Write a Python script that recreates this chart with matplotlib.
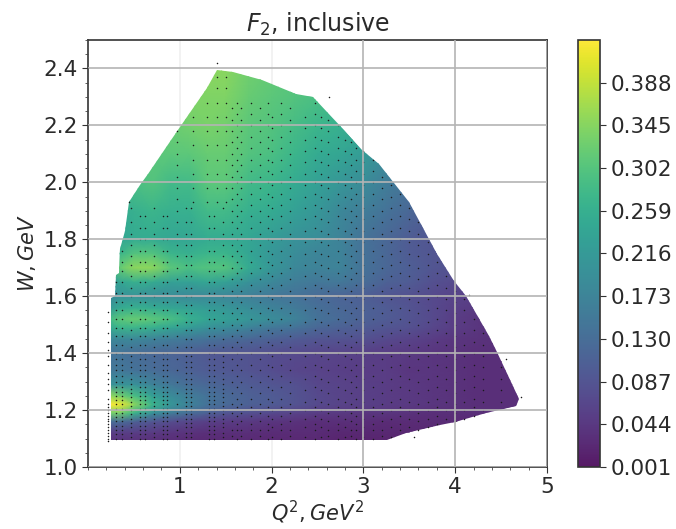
#F2 inclusivo: mapa Q2-W con los puntos medidos encima
import numpy as np
import matplotlib
matplotlib.use('Agg')
import matplotlib.pyplot as plt
from matplotlib.colors import ListedColormap
from matplotlib.patches import Polygon
from matplotlib.path import Path
from matplotlib.ticker import MultipleLocator

# Valores de F2 (filas: W, columnas: Q2)
q2_grid = [0.2, 0.35, 0.5, 0.7, 0.9, 1.1, 1.3, 1.5, 1.75, 2.0, 2.25, 2.5, 2.75, 3.0, 3.25, 3.5, 3.75, 4.0, 4.25, 4.75]
w_grid = [1.08, 1.12, 1.16, 1.19, 1.22, 1.25, 1.29, 1.34, 1.40, 1.45, 1.49, 1.52, 1.56, 1.60, 1.65, 1.70, 1.75, 1.80, 1.90, 2.00, 2.10, 2.20, 2.30, 2.42]
f2 = [
    [.03, .03, .03, .025, .025, .02, .02, .02, .02, .02, .02, .02, .015, .015, .015, .015, .015, .015, .015, .015],
    [.05, .05, .05, .045, .04, .035, .03, .03, .03, .025, .025, .025, .02, .02, .02, .02, .02, .02, .02, .02],
    [.13, .13, .11, .09, .075, .065, .055, .05, .045, .04, .035, .03, .03, .03, .025, .025, .025, .025, .02, .02],
    [.33, .33, .27, .2, .16, .13, .11, .09, .08, .07, .06, .05, .045, .04, .04, .035, .03, .03, .03, .03],
    [.43, .42, .35, .27, .21, .17, .14, .125, .11, .10, .085, .07, .06, .055, .05, .045, .04, .035, .03, .03],
    [.36, .33, .29, .23, .19, .16, .14, .125, .11, .10, .085, .07, .06, .055, .05, .045, .04, .035, .03, .03],
    [.2, .2, .2, .17, .15, .13, .12, .11, .10, .09, .08, .065, .06, .055, .05, .045, .04, .035, .03, .03],
    [.15, .15, .14, .13, .12, .11, .10, .095, .085, .075, .065, .06, .055, .05, .05, .04, .04, .035, .03, .03],
    [.14, .14, .13, .12, .115, .105, .095, .09, .085, .075, .07, .065, .06, .055, .05, .045, .04, .035, .03, .03],
    [.18, .18, .18, .17, .16, .15, .14, .13, .12, .11, .10, .09, .085, .08, .07, .06, .05, .04, .035, .03],
    [.24, .27, .27, .26, .24, .22, .2, .19, .17, .15, .14, .12, .11, .10, .09, .08, .065, .05, .04, .035],
    [.27, .31, .32, .31, .29, .26, .24, .23, .21, .19, .17, .14, .125, .11, .10, .085, .07, .05, .04, .035],
    [.2, .25, .26, .25, .24, .23, .22, .21, .19, .17, .155, .135, .12, .11, .10, .085, .07, .055, .045, .04],
    [.18, .2, .2, .19, .19, .18, .18, .175, .165, .15, .14, .125, .115, .105, .09, .08, .07, .06, .05, .04],
    [.2, .24, .26, .25, .23, .23, .24, .23, .2, .18, .16, .15, .15, .13, .11, .10, .08, .07, .06, .05],
    [.25, .32, .35, .35, .31, .29, .30, .30, .25, .21, .18, .17, .17, .14, .12, .105, .09, .08, .07, .06],
    [.24, .27, .30, .30, .27, .26, .27, .27, .24, .21, .19, .175, .17, .14, .12, .10, .09, .08, .07, .06],
    [.24, .24, .25, .25, .24, .24, .25, .25, .24, .22, .20, .19, .17, .14, .12, .10, .09, .08, .07, .06],
    [.25, .25, .26, .27, .26, .26, .28, .28, .26, .25, .23, .21, .18, .16, .14, .12, .10, .09, .08, .07],
    [.28, .28, .29, .30, .28, .28, .31, .31, .28, .27, .25, .23, .21, .19, .16, .14, .12, .10, .09, .08],
    [.30, .30, .30, .31, .31, .31, .32, .32, .30, .29, .27, .25, .24, .22, .19, .17, .15, .13, .11, .10],
    [.32, .32, .32, .32, .32, .33, .335, .33, .31, .30, .285, .27, .26, .25, .22, .20, .18, .16, .14, .12],
    [.34, .34, .34, .34, .34, .34, .34, .34, .32, .31, .30, .29, .28, .27, .25, .23, .21, .19, .17, .15],
    [.34, .34, .34, .34, .34, .34, .35, .35, .33, .32, .31, .30, .29, .28, .26, .24, .22, .20, .18, .16],
]

# Borde de la zona con datos
borde_q2 = [0.25, 0.25, 0.295, 0.305, 0.34, 0.35, 0.40, 0.45, 0.565, 0.65, 0.86, 1.0, 1.30, 1.41, 1.58, 1.89, 2.27, 2.45, 2.77, 2.99, 3.17, 3.5, 3.80, 3.99, 4.12, 4.37, 4.44, 4.62, 4.70, 4.66, 4.34, 4.0, 3.83, 3.46, 3.26]
borde_w = [1.094, 1.595, 1.60, 1.675, 1.68, 1.765, 1.83, 1.93, 1.99, 2.03, 2.126, 2.196, 2.33, 2.395, 2.388, 2.36, 2.31, 2.30, 2.19, 2.115, 2.066, 1.93, 1.748, 1.654, 1.60, 1.46, 1.41, 1.293, 1.24, 1.215, 1.19, 1.157, 1.147, 1.118, 1.094]

# Puntos medidos, por grupos de columnas
col_borde = [0.214]
w_borde = [1.09, 1.10, 1.11, 1.12, 1.13, 1.14, 1.15, 1.16, 1.17, 1.18, 1.19, 1.20, 1.21, 1.22, 1.24, 1.27, 1.29, 1.31, 1.33, 1.36, 1.39, 1.41, 1.44, 1.47, 1.51, 1.545]
col_bajo = [0.31, 0.366, 0.565, 0.62, 0.82, 0.866, 1.32, 1.37]
w_bajo = [1.085, 1.10, 1.115, 1.13, 1.145, 1.16, 1.175, 1.19, 1.205, 1.22, 1.235, 1.25, 1.265, 1.28, 1.30, 1.32, 1.34, 1.36, 1.38, 1.40, 1.43, 1.46, 1.49, 1.52, 1.55, 1.58, 1.61, 1.65, 1.69, 1.72, 1.76, 1.80, 1.84, 1.88]
col_bajo2 = [0.464, 0.717, 1.07, 1.12, 1.47]
w_bajo2 = [1.09, 1.105, 1.12, 1.14, 1.155, 1.17, 1.185, 1.20, 1.215, 1.23, 1.245, 1.26, 1.275, 1.29, 1.31, 1.33, 1.35, 1.37, 1.39, 1.42, 1.45, 1.48, 1.51, 1.54, 1.57, 1.60, 1.63, 1.67, 1.71, 1.74, 1.78, 1.82, 1.86, 1.91]
col_medio = [0.97, 1.57, 1.67, 1.87, 2.2, 2.61, 2.87, 3.2, 3.6, 4.0]
w_medio = [1.09, 1.11, 1.13, 1.16, 1.19, 1.22, 1.26, 1.30, 1.34, 1.38, 1.42, 1.46, 1.50, 1.54, 1.58, 1.62, 1.66, 1.70, 1.74, 1.78, 1.82, 1.86, 1.90, 1.94, 1.98, 2.02, 2.06, 2.10, 2.14, 2.18, 2.22, 2.26]
col_alto = [1.62, 1.78, 1.96, 2.1, 2.47, 2.72, 2.92, 3.1, 3.4, 3.8, 4.2]
w_alto = [1.10, 1.13, 1.15, 1.18, 1.21, 1.24, 1.28, 1.32, 1.36, 1.40, 1.44, 1.48, 1.52, 1.56, 1.60, 1.64, 1.68, 1.72, 1.76, 1.80, 1.84, 1.88, 1.92, 1.96, 2.00, 2.04, 2.08, 2.12, 2.16, 2.20, 2.24, 2.28]
col_resto = [2.0, 2.36, 2.54, 2.8, 3.0, 3.3, 3.5, 3.7, 3.9, 4.1, 4.3, 4.5]
w_resto = [1.105, 1.14, 1.17, 1.20, 1.23, 1.27, 1.31, 1.35, 1.39, 1.43, 1.47, 1.51, 1.55, 1.59, 1.63, 1.67, 1.71, 1.75, 1.79, 1.83, 1.87, 1.91, 1.95, 1.99, 2.03, 2.07, 2.11, 2.15, 2.19, 2.23]
col_arriba = [1.14, 1.30, 1.40, 1.50]
w_arriba = [1.93, 1.98, 2.03, 2.08, 2.13, 2.18, 2.23, 2.28, 2.33, 2.37]
sueltos_q2 = [1.41, 0.45, 4.72, 4.55, 4.15, 3.55, 2.62]
sueltos_w = [2.42, 1.93, 1.245, 1.38, 1.605, 1.105, 2.30]

cbar_ticks = [0.001, 0.044, 0.087, 0.130, 0.173, 0.216, 0.259, 0.302, 0.345, 0.388]

# viridis algo apagado, como en la original
base = plt.get_cmap('viridis')(np.linspace(0, 1, 256))
apagado = ListedColormap(base[:, :3]*0.9 + 0.1*np.array([0.95, 0.95, 0.95]))

fig = plt.figure(figsize=(6.76, 5.29), dpi=100)
ax = fig.add_axes([88/676, 1-467/529, 459/676, 427/529])
cax = fig.add_axes([578/676, 62/529, 22/676, 427/529])

malla = ax.pcolormesh(q2_grid, w_grid, np.array(f2), cmap=apagado, shading='gouraud',
                      vmin=0.001, vmax=0.431, zorder=1)
zona = Polygon(np.column_stack([borde_q2, borde_w]), transform=ax.transData, fc='none', ec='none')
ax.add_patch(zona)
malla.set_clip_path(zona)

# Solo los puntos que caen dentro del borde, mas los sueltos
q_pts, w_pts = [], []
for cols, ws in [(col_bajo, w_bajo), (col_bajo2, w_bajo2), (col_medio, w_medio), (col_alto, w_alto),
                 (col_resto, w_resto), (col_arriba, w_arriba)]:
    qq, ww = np.meshgrid(cols, ws)
    q_pts.append(qq.ravel())
    w_pts.append(ww.ravel())
q_pts = np.concatenate(q_pts)
w_pts = np.concatenate(w_pts)
dentro = Path(np.column_stack([borde_q2, borde_w])).contains_points(np.column_stack([q_pts, w_pts]))
ax.scatter(q_pts[dentro], w_pts[dentro], s=1.2, color='#1a1a1a', linewidths=0, zorder=2)
qq, ww = np.meshgrid(col_borde, w_borde)
ax.scatter(qq.ravel(), ww.ravel(), s=1.2, color='#1a1a1a', linewidths=0, zorder=2)
ax.scatter(sueltos_q2, sueltos_w, s=1.2, color='#1a1a1a', linewidths=0, zorder=2)

ax.set_xlim(0, 5)
ax.set_ylim(1.0, 2.5)
ax.set_xticks([1, 2, 3, 4, 5])
ax.set_yticks([1.0, 1.2, 1.4, 1.6, 1.8, 2.0, 2.2, 2.4])
ax.xaxis.set_minor_locator(MultipleLocator(0.2))
ax.yaxis.set_minor_locator(MultipleLocator(0.05))
ax.tick_params(which='major', labelsize=15.5, length=4, labelcolor='#2a2a2a', color='#333333')
ax.tick_params(which='minor', length=2.5, color='#444444')
ax.set_axisbelow(False)
ax.grid(True, axis='y', color='#b4b4b4', lw=1.2)
ax.grid(True, axis='x', color='#b4b4b4', lw=1.2)
# las verticales de 1 y 2 casi no se ven en la original: quedan bajo el mapa
for i in [0, 1]:
    ax.get_xgridlines()[i].set_visible(False)
    ax.axvline(ax.get_xticks()[i], color='#f0f0f0', lw=1.2, zorder=0.5)
for s in ax.spines.values():
    s.set_color('#333333')
    s.set_linewidth(1.2)

ax.set_title('$F_2$, inclusive', fontsize=17, color='#2a2a2a', pad=6)
ax.set_xlabel('$Q^2, GeV^2$', fontsize=15, color='#2a2a2a', labelpad=1)
ax.set_ylabel('$W, GeV$', fontsize=15, color='#2a2a2a', labelpad=4)

cbar = fig.colorbar(malla, cax=cax)
cbar.set_ticks(cbar_ticks)
cbar.set_ticklabels([f'{t:.3f}' for t in cbar_ticks])
cbar.ax.tick_params(labelsize=15.5, length=4, labelcolor='#2a2a2a', color='#333333')
cbar.ax.minorticks_off()
cbar.outline.set_edgecolor('#333333')
cbar.outline.set_linewidth(1.2)

fig.savefig('out.png', dpi=100)
